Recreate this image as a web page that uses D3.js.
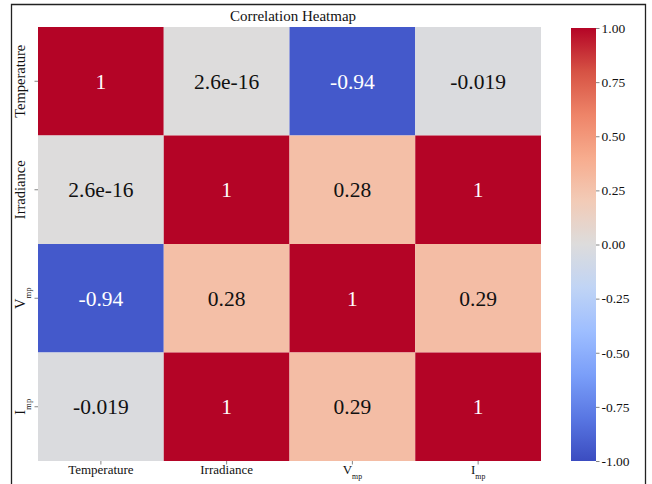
<!DOCTYPE html>
<html>
<head>
<meta charset="utf-8">
<script src="https://cdn.jsdelivr.net/npm/d3@7/dist/d3.min.js"></script>
<style>
  html, body { margin: 0; padding: 0; background: #fff; }
  svg { display: block; }
  text { font-family: "Liberation Serif", "Times New Roman", serif; }
</style>
</head>
<body>
<svg id="chart" width="652" height="484"></svg>
<script>
// Variables of the correlation matrix
const varMain = ["Temperature", "Irradiance", "V", "I"];
const varSub  = ["", "", "mp", "mp"];

// Correlation matrix rows (same order as the variables)
const rowTemperature = [1, 2.6e-16, -0.94, -0.019];
const rowIrradiance  = [2.6e-16, 1, 0.28, 1];
const rowVmp         = [-0.94, 0.28, 1, 0.29];
const rowImp         = [-0.019, 1, 0.29, 1];
const corrRows = [rowTemperature, rowIrradiance, rowVmp, rowImp];

// Colorbar ticks
const cbarTicks = [1.00, 0.75, 0.50, 0.25, 0.00, -0.25, -0.50, -0.75, -1.00];

// coolwarm diverging palette anchors
const coolwarmStops = ["#3b4cc0", "#5977e3", "#7b9ff9", "#9ebeff", "#c0d4f5",
                       "#dddcdc", "#f2cbb7", "#f7ac8e", "#ee8468", "#d65244", "#b40426"];

const svg = d3.select("#chart");

// outer frame
svg.append("path")
  .attr("d", "M11.5,490 L11.5,4.5 L645.5,4.5 L645.5,490")
  .attr("fill", "none").attr("stroke", "#222").attr("stroke-width", 1.3);

const plot = { left: 38, right: 541, top: 27, bottom: 461 };
const idx = d3.range(varMain.length);

const x = d3.scaleBand().domain(idx).range([plot.left, plot.right]);
const y = d3.scaleBand().domain(idx).range([plot.top, plot.bottom]);

const interp = d3.piecewise(d3.interpolateRgb, coolwarmStops);
const color = d3.scaleSequential(interp).domain([-1, 1]);

const cells = [];
corrRows.forEach((row, r) => row.forEach((v, c) => cells.push({ r, c, v })));

const fmt = v => String(Number(v.toPrecision(2)));

const g = svg.append("g");
g.selectAll("rect.cell").data(cells).join("rect")
  .attr("class", "cell")
  .attr("x", d => x(d.c)).attr("y", d => y(d.r))
  .attr("width", x.bandwidth()).attr("height", y.bandwidth())
  .attr("fill", d => color(d.v));

g.selectAll("text.ann").data(cells).join("text")
  .attr("class", "ann")
  .attr("x", d => x(d.c) + x.bandwidth() / 2)
  .attr("y", d => y(d.r) + y.bandwidth() / 2)
  .attr("dy", "0.35em")
  .attr("text-anchor", "middle")
  .attr("font-size", 21.5)
  .attr("fill", d => Math.abs(d.v) > 0.6 ? "#fff" : "#111")
  .text(d => fmt(d.v));

// Title
svg.append("text")
  .attr("x", 293).attr("y", 20.5)
  .attr("text-anchor", "middle").attr("font-size", 15).attr("fill", "#111")
  .text("Correlation Heatmap");

// helper that writes a label with optional subscript
function writeLabel(sel, i, size) {
  sel.append("tspan").text(varMain[i]);
  if (varSub[i]) {
    sel.append("tspan")
      .attr("font-size", size * 0.6)
      .attr("dy", size * 0.4)
      .text(varSub[i]);
  }
}

// x axis ticks + labels
idx.forEach(i => {
  const cx = x(i) + x.bandwidth() / 2;
  svg.append("line").attr("x1", cx).attr("x2", cx)
    .attr("y1", plot.bottom).attr("y2", plot.bottom + 3.5)
    .attr("stroke", "#666").attr("stroke-width", 0.8);
  const t = svg.append("text")
    .attr("x", cx).attr("y", plot.bottom + 13)
    .attr("text-anchor", "middle").attr("font-size", 13).attr("fill", "#111");
  writeLabel(t, i, 13);
});

// y axis ticks + labels
idx.forEach(i => {
  const cy = y(i) + y.bandwidth() / 2;
  svg.append("line").attr("x1", plot.left - 3.5).attr("x2", plot.left)
    .attr("y1", cy).attr("y2", cy)
    .attr("stroke", "#666").attr("stroke-width", 0.8);
  const t = svg.append("text")
    .attr("transform", `translate(${plot.left - 13},${cy}) rotate(-90)`)
    .attr("text-anchor", "middle").attr("font-size", 14.5).attr("fill", "#111");
  writeLabel(t, i, 14.5);
});

// Colorbar
const cb = { x: 571, w: 25, top: 28, bottom: 461 };
const defs = svg.append("defs");
const grad = defs.append("linearGradient").attr("id", "cbgrad")
  .attr("x1", 0).attr("y1", 1).attr("x2", 0).attr("y2", 0);
d3.range(0, 1.0001, 0.02).forEach(t => {
  grad.append("stop").attr("offset", t).attr("stop-color", interp(t));
});
svg.append("rect")
  .attr("x", cb.x).attr("y", cb.top).attr("width", cb.w).attr("height", cb.bottom - cb.top)
  .attr("fill", "url(#cbgrad)");

const cbScale = d3.scaleLinear().domain([-1, 1]).range([cb.bottom, cb.top]);
const cbAxis = d3.axisRight(cbScale)
  .tickValues(cbarTicks)
  .tickSize(3.5)
  .tickPadding(2)
  .tickFormat(d => d.toFixed(2));
const ax = svg.append("g").attr("transform", `translate(${cb.x + cb.w},0)`).call(cbAxis);
ax.select(".domain").remove();
ax.selectAll(".tick line").attr("stroke", "#666").attr("stroke-width", 0.8);
ax.selectAll(".tick text")
  .attr("font-family", "'Liberation Serif', 'Times New Roman', serif")
  .attr("font-size", 13.5).attr("fill", "#111");
</script>
</body>
</html>
